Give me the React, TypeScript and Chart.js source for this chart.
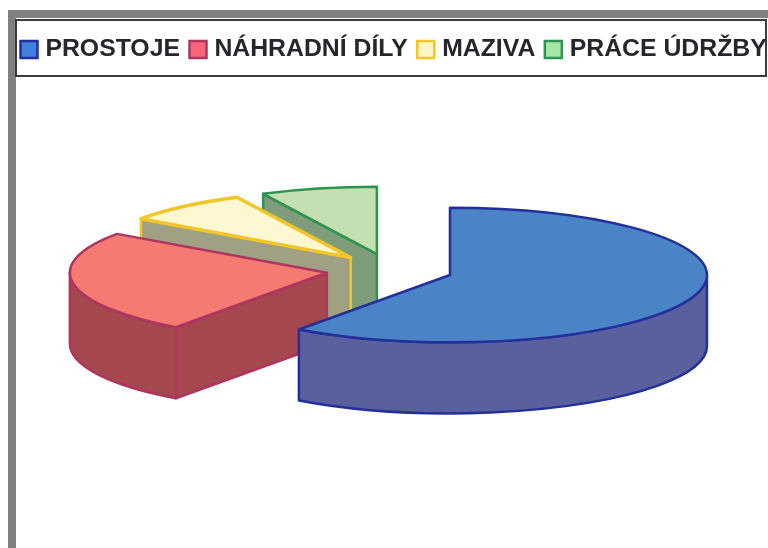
import React, { useEffect, useRef } from "react";
import { Chart, registerables } from "chart.js";

Chart.register(...registerables);

const categories = ["PROSTOJE", "NÁHRADNÍ DÍLY", "MAZIVA", "PRÁCE ÚDRŽBY"];
const shares = [60, 24.8, 7.9, 7.3];
const topColors = ["#4A84C6", "#F57A72", "#FDF7D2", "#C4E0B2"];
const wallColors = ["#5A5F9E", "#A5474E", "#A0A083", "#7F9D7A"];
const edgeColors = ["#23309A", "#AE3560", "#F2C528", "#2F9350"];
const legendFills = ["#4381DC", "#F9667C", "#FFF6C4", "#A6E6A6"];
const explodes = [62, 65, 62, 62];
const edgeWidths = [2.5, 2.5, 3.5, 2.5];

const pieRadius = 257;
const squash = 0.262;
const depth = 71;
const pieCentreX = 391;
const pieCentreY = 270;

function geom(arc: any) {
  const start = arc.startAngle;
  const end = arc.endAngle;
  const mid = (start + end) / 2;
  const off = arc.options.offset / 4; // Chart.js moves an arc by a quarter of its offset
  return {
    start,
    end,
    r: pieRadius,
    cx: pieCentreX + off * Math.cos(mid),
    cy: pieCentreY + off * squash * Math.sin(mid),
  };
}

const pie3d = {
  id: "pie3d",
  afterDatasetsUpdate(chart: any) {
    // Chart.js widens an offset arc when it draws it; take that back so all slices share one radius
    chart.getDatasetMeta(0).data.forEach((arc: any) => {
      const fix = 1 - Math.sin(Math.min(Math.PI, arc.circumference));
      arc.outerRadius = pieRadius - (arc.options.offset / 4) * fix;
    });
  },
  beforeDraw(chart: any) {
    const { ctx, width, height } = chart;
    ctx.save();
    ctx.fillStyle = "#fff";
    ctx.fillRect(0, 0, width, height);
    ctx.fillStyle = "#808080";
    ctx.fillRect(8, 10, width - 8, 8);
    ctx.fillRect(8, 10, 8, height - 10);
    ctx.strokeStyle = "#3c3c3c";
    ctx.lineWidth = 2;
    ctx.strokeRect(16, 20, 750, 56);
    ctx.restore();
  },
  beforeDatasetsDraw(chart: any) {
    const { ctx } = chart;
    const arcs = chart.getDatasetMeta(0).data;
    ctx.save();
    // back slices first, so nearer walls cover them
    [...arcs.keys()].reverse().forEach((i: number) => {
      const g = geom(arcs[i]);
      ctx.fillStyle = wallColors[i];
      ctx.strokeStyle = edgeColors[i];
      ctx.lineWidth = 2.5;
      ctx.lineJoin = "round";
      // straight cut faces turned towards the viewer
      const faces: [number, number][] = [
        [g.start, Math.sin(g.start - Math.PI / 2)],
        [g.end, Math.sin(g.end + Math.PI / 2)],
      ];
      faces.forEach(([a, facing]) => {
        if (facing <= 0) return;
        const ox = g.cx + g.r * Math.cos(a);
        const oy = g.cy + g.r * squash * Math.sin(a);
        ctx.beginPath();
        ctx.moveTo(g.cx, g.cy);
        ctx.lineTo(ox, oy);
        ctx.lineTo(ox, oy + depth);
        ctx.lineTo(g.cx, g.cy + depth);
        ctx.closePath();
        ctx.fill();
        ctx.stroke();
      });
      // curved outer band
      const a0 = Math.max(g.start, 0);
      const a1 = Math.min(g.end, Math.PI);
      if (a1 > a0) {
        ctx.beginPath();
        ctx.ellipse(g.cx, g.cy, g.r, g.r * squash, 0, a0, a1);
        ctx.ellipse(g.cx, g.cy + depth, g.r, g.r * squash, 0, a1, a0, true);
        ctx.closePath();
        ctx.fill();
        ctx.stroke();
      }
    });
    ctx.restore();
    // the tops are drawn by the chart, flattened
    const first = arcs[0];
    ctx.save();
    ctx.translate(pieCentreX, pieCentreY);
    ctx.scale(1, squash);
    ctx.translate(-first.x, -first.y);
  },
  afterDatasetsDraw(chart: any) {
    const { ctx } = chart;
    ctx.restore();
    const arcs = chart.getDatasetMeta(0).data;
    ctx.save();
    ctx.lineJoin = "round";
    // outline each top at an even width, closing any sliver left along the cut edges
    arcs.forEach((arc: any, i: number) => {
      const g = geom(arc);
      ctx.fillStyle = topColors[i];
      ctx.strokeStyle = edgeColors[i];
      ctx.lineWidth = edgeWidths[i];
      ctx.beginPath();
      ctx.moveTo(g.cx, g.cy);
      ctx.ellipse(g.cx, g.cy, g.r, g.r * squash, 0, g.start, g.end);
      ctx.closePath();
      ctx.fill();
      ctx.stroke();
    });
    ctx.restore();
  },
};

export default function App() {
  const ref = useRef<HTMLCanvasElement>(null);
  useEffect(() => {
    const chart = new Chart(ref.current!, {
      type: "pie",
      data: {
        labels: categories,
        datasets: [
          {
            data: shares,
            backgroundColor: topColors,
            borderWidth: 0,
            offset: explodes.map((e) => e * 4),
            clip: false,
          } as any,
        ],
      },
      options: {
        animation: false,
        responsive: false,
        radius: pieRadius,
        layout: { padding: { left: 11, right: 0, top: 23 } },
        plugins: {
          title: { display: false },
          tooltip: { enabled: false },
          legend: {
            display: true,
            position: "top",
            align: "start",
            labels: {
              usePointStyle: true,
              boxWidth: 8,
              boxHeight: 17,
              padding: 14,
              color: "#26262c",
              font: { family: "'Liberation Sans', Arial, sans-serif", size: 24.8, weight: "bold" },
              generateLabels: () =>
                categories.map((text, i) => ({
                  text,
                  fillStyle: legendFills[i],
                  strokeStyle: edgeColors[i],
                  lineWidth: 2.5,
                  pointStyle: "rect",
                  fontColor: "#26262c",
                  datasetIndex: 0,
                  index: i,
                })),
            },
          },
        },
      } as any,
      plugins: [pie3d],
    });
    return () => chart.destroy();
  }, []);
  return (
    <div style={{ position: "fixed", left: 0, top: 0, width: 768, height: 548, overflow: "hidden", background: "#fff" }}>
      <canvas ref={ref} width={800} height={548} style={{ display: "block", filter: "blur(0.6px)" }} />
    </div>
  );
}
